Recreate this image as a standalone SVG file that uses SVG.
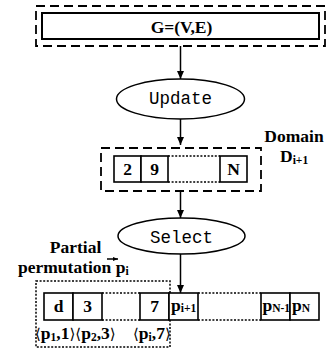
<svg xmlns="http://www.w3.org/2000/svg" width="327" height="350" viewBox="0 0 327 350">
<style>
.bg{fill:#fff}
.dash{fill:none;stroke:#000;stroke-width:1.8;stroke-dasharray:9 5}
.dot{fill:none;stroke:#000;stroke-width:1.5;stroke-dasharray:2 1.6}
.cell{fill:#fff;stroke:#000;stroke-width:1.6}
.box{fill:#fff;stroke:#000;stroke-width:2}
.ell{fill:#fff;stroke:#000;stroke-width:1.5}
.conn{stroke:#000;stroke-width:1.5;fill:none}
.t{font-family:"Liberation Serif","Times New Roman",serif;font-weight:bold;font-size:17.5px;fill:#000}
.m{font-family:"Liberation Mono","Courier New",monospace;font-size:17.5px;fill:#000}
.s{font-size:11.5px}
.br{font-family:"DejaVu Serif","Liberation Serif",serif;font-weight:normal;font-size:15px}
</style>
<defs>
<marker id="ah" markerUnits="userSpaceOnUse" markerWidth="8" markerHeight="7" refX="8" refY="3.5" orient="auto">
<path d="M0,0 L8,3.5 L0,7 z" fill="#000"/>
</marker>
<marker id="ah2" markerUnits="userSpaceOnUse" markerWidth="5" markerHeight="4" refX="5" refY="2" orient="auto">
<path d="M0,0 L5,2 L0,4 z" fill="#000"/>
</marker>
</defs>
<rect class="bg" x="0" y="0" width="327" height="350"/>

<g id="connectors">
<line class="conn" x1="180.5" y1="46" x2="180.5" y2="79" marker-end="url(#ah)"/>
<line class="conn" x1="180.5" y1="119" x2="180.5" y2="145" marker-end="url(#ah)"/>
<line class="conn" x1="180.5" y1="191" x2="180.5" y2="218" marker-end="url(#ah)"/>
<line class="conn" x1="180.5" y1="254" x2="180.5" y2="293" marker-end="url(#ah)"/>
</g>

<g id="graph">
<rect class="dash" x="36" y="6" width="289" height="40"/>
<rect class="box" x="42" y="13" width="277" height="26"/>
<text class="t" x="181.5" y="33" text-anchor="middle">G=(V,E)</text>
</g>

<g id="update">
<ellipse class="ell" cx="180.5" cy="99" rx="64" ry="20"/>
<text class="m" x="180.5" y="104" text-anchor="middle">Update</text>
</g>

<g id="domain">
<rect class="dash" x="101" y="148" width="160" height="43"/>
<rect class="cell" x="114" y="156" width="27" height="26"/>
<rect class="cell" x="141" y="156" width="27" height="26"/>
<line class="dot" x1="168" y1="156" x2="220" y2="156"/>
<line class="dot" x1="168" y1="182" x2="220" y2="182"/>
<rect class="cell" x="220" y="156" width="27" height="26"/>
<text class="t" x="127.5" y="175" text-anchor="middle">2</text>
<text class="t" x="154.5" y="175" text-anchor="middle">9</text>
<text class="t" x="233.5" y="175" text-anchor="middle">N</text>
<text class="t" x="294" y="142" text-anchor="middle">Domain</text>
<text class="t" x="280" y="162">D<tspan class="s" dy="2">i+1</tspan></text>
</g>

<g id="select">
<ellipse class="ell" cx="181.5" cy="236" rx="63.5" ry="18"/>
<text class="m" x="181.5" y="243" text-anchor="middle">Select</text>
</g>

<g id="permutation">
<text class="t" x="75.5" y="253" text-anchor="middle">Partial</text>
<text class="t" x="18" y="273">permutation p<tspan class="s" dy="2">i</tspan></text>
<line class="conn" x1="107" y1="259" x2="118" y2="259" stroke-width="1.2" marker-end="url(#ah2)"/>
<rect class="dot" x="36" y="281" width="134" height="66"/>
<rect class="cell" x="44" y="293" width="29" height="27"/>
<rect class="cell" x="73" y="293" width="29" height="27"/>
<line class="dot" x1="102" y1="293" x2="140" y2="293"/>
<line class="dot" x1="102" y1="320" x2="140" y2="320"/>
<rect class="cell" x="140" y="293" width="29" height="27"/>
<rect class="cell" x="169" y="293" width="29" height="27"/>
<line class="dot" x1="198" y1="293" x2="261" y2="293"/>
<line class="dot" x1="198" y1="320" x2="261" y2="320"/>
<rect class="cell" x="261" y="293" width="29" height="27"/>
<rect class="cell" x="290" y="293" width="29" height="27"/>
<text class="t" x="58.5" y="312" text-anchor="middle">d</text>
<text class="t" x="87.5" y="312" text-anchor="middle">3</text>
<text class="t" x="154.5" y="312" text-anchor="middle">7</text>
<text class="t" x="171" y="311">p<tspan class="s" dy="1">i+1</tspan></text>
<text class="t" x="262.5" y="311">p<tspan class="s" dy="1">N-1</tspan></text>
<text class="t" x="292" y="311">p<tspan class="s" dy="1">N</tspan></text>
<text class="t" x="35" y="339"><tspan class="br">⟨</tspan>p<tspan class="s" dy="2">1</tspan><tspan dy="-2">,1</tspan><tspan class="br">⟩⟨</tspan>p<tspan class="s" dy="2">2</tspan><tspan dy="-2">,3</tspan><tspan class="br">⟩</tspan></text>
<text class="t" x="133" y="339"><tspan class="br">⟨</tspan>p<tspan class="s" dy="2">i</tspan><tspan dy="-2">,7</tspan><tspan class="br">⟩</tspan></text>
</g>
</svg>
